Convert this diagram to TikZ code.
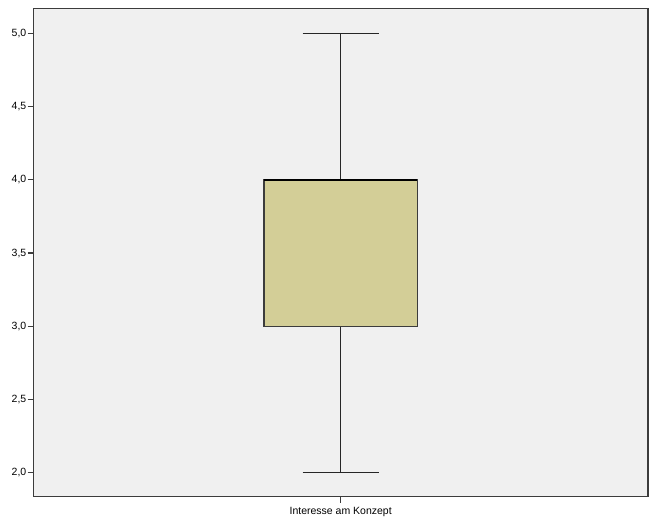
\documentclass[tikz,border=0pt]{standalone}
\usepackage{fontspec}
\setmainfont{Liberation Sans}
\usepackage{xcolor}
\definecolor{plotbg}{RGB}{240,240,240}
\definecolor{boxfill}{RGB}{211,206,151}
\definecolor{axisgray}{RGB}{60,60,60}

\begin{document}
\begin{tikzpicture}[x=1pt, y=1pt, font=\fontsize{10.5}{12}\selectfont,
	axisline/.style={line width=1.3pt, color=axisgray},
	whisker/.style={line width=1.3pt, color=black!85}]
	\useasboundingbox (0,0) rectangle (659,528);
	
	% plot area
	\draw[axisline, fill=plotbg] (33.5,31.3) rectangle (648,519.5);
	%\draw[axisline, color=gray!60] (649.5,31.3) -- (649.5,519.5);
	
	\begin{scope}[y=146.5pt, yshift=-237.8pt]
		% y axis ticks
		\foreach \v/\lab in {2.0/{2,0}, 2.5/{2,5}, 3.0/{3,0}, 3.5/{3,5}, 4.0/{4,0}, 4.5/{4,5}, 5.0/{5,0}}{
			\draw[axisline] (27.5,\v) -- (33.5,\v);
			\node[anchor=east, inner sep=0pt] (tick\v) at (26.5,\v) {\lab};
		}
		
		% whiskers
		\draw[whisker] (340.7,4) -- (340.7,5);
		\draw[whisker] (340.7,3) -- (340.7,2);
		\draw[whisker] (302.7,5) -- (379.3,5);
		\draw[whisker] (302.7,2) -- (379.3,2);
		
		% box
		\draw[axisline, fill=boxfill] (264,3) rectangle (417.3,4);
		\draw[line width=2.2pt, color=black] (264,4) -- (417.3,4);
	\end{scope}
	
	% x axis
	\draw[axisline] (340.7,31.3) -- (340.7,25);
	\node[] (xlab) at (340.7,16.3) {Interesse am Konzept};
	
\end{tikzpicture}
\end{document}
